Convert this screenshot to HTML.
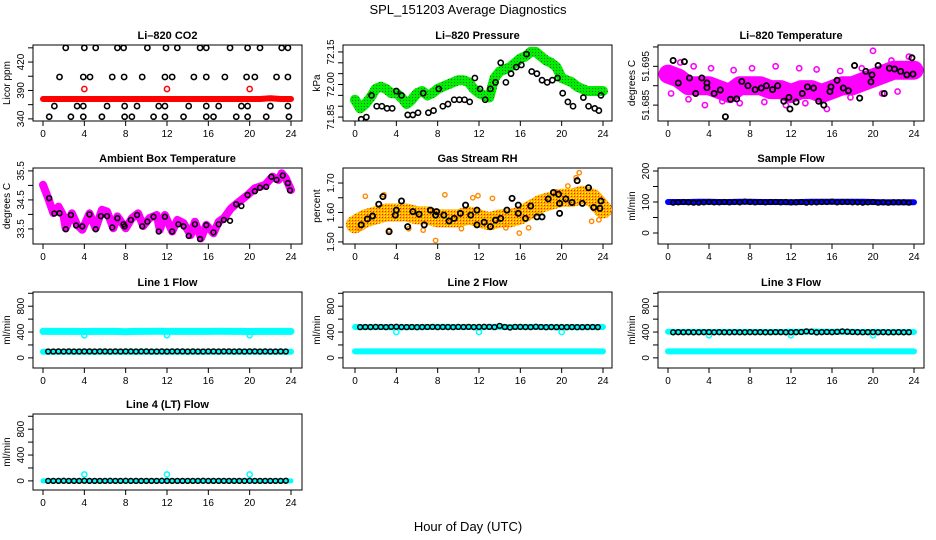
<!DOCTYPE html>
<html><head><meta charset="utf-8"><title>SPL_151203 Average Diagnostics</title>
<style>
html,body{margin:0;padding:0;background:#fff;}
svg{display:block;font-family:"Liberation Sans",Arial,sans-serif;}
</style></head>
<body>
<svg id="chart" width="936" height="540" viewBox="0 0 936 540">
<text x="468" y="14" text-anchor="middle" font-size="13">SPL_151203  Average Diagnostics</text>
<text x="468" y="531" text-anchor="middle" font-size="13">Hour of Day (UTC)</text>
</svg>
<script>
// ---------- data ----------
const xTicks = [0,4,8,12,16,20,24];
const hourly = [0,1,2,3,4,5,6,7,8,9,10,11,12,13,14,15,16,17,18,19,20,21,22,23,24];
const halfH = [0.5,1,1.5,2,2.5,3,3.5,4,4.5,5,5.5,6,6.5,7,7.5,8,8.5,9,9.5,10,10.5,11,11.5,12,12.5,13,13.5,14,14.5,15,15.5,16,16.5,17,17.5,18,18.5,19,19.5,20,20.5,21,21.5,22,22.5,23,23.5];

// CO2
const co2Band = [368,368,368,368,368,368,368,368,368,368,368,368,368,368,368,368,368,368,368,368,368,368,369,368,368];
const co2RedH = [4,12,20];
const co2RedV = [382,382,382];
const co2H = [2.2,4.0,5.1,7.2,7.8,10.1,11.9,13.0,15.2,15.8,18.1,19.8,21.0,23.1,23.7,
  1.6,3.9,4.55,6.7,7.85,9.6,11.8,12.5,14.6,15.8,17.6,19.7,20.5,22.6,23.7,
  1.1,3.3,3.9,6.2,7.9,9.1,11.2,11.8,14.1,15.8,17.0,19.2,19.8,22.0,23.7,
  0.6,2.7,3.9,5.7,7.9,8.6,10.7,11.8,13.6,15.8,16.5,18.7,19.8,21.6,23.8];
const co2V = [440,440,440,440,440,440,440,440,440,440,440,440,440,440,440,
  399,399,399,399,399,399,399,399,399,399,399,399,399,399,399,
  358,358,358,358,358,358,358,358,358,358,358,358,358,358,358,
  343,343,343,343,343,343,343,343,343,343,343,343,343,343,343];

// Pressure
const presBandH = [0,0.5,1,1.5,2,2.5,3,3.5,4,4.5,5,5.5,6,6.5,7,7.5,8,8.5,9,9.5,10,10.5,11,11.5,12,12.5,13,13.5,14,14.5,15,15.5,16,16.5,17,17.5,18,18.5,19,19.5,20,20.5,21,21.5,22,22.5,23,23.5,24];
const presBandV = [71.93,71.89,71.91,71.94,71.98,71.99,71.98,71.96,71.96,71.94,71.91,71.93,71.96,71.97,71.95,71.96,71.98,71.99,72.00,72.01,72.02,72.02,72.01,71.98,71.96,71.95,71.94,72.03,72.06,72.07,72.08,72.10,72.12,72.13,72.15,72.15,72.13,72.11,72.10,72.08,72.03,72.02,72.01,71.99,71.98,71.97,71.97,71.97,71.97];
const presH = [0.6,1.1,1.6,2.1,2.6,3.1,3.6,4.0,4.5,5.1,5.6,6.1,6.6,7.1,7.6,8.1,8.5,9.0,9.6,10.1,10.6,11.1,11.6,12.1,12.6,13.1,13.6,14.1,14.6,15.1,15.6,16.1,16.6,17.1,17.6,18.1,18.6,19.1,19.6,20.1,20.6,21.1,22.1,22.6,23.2,23.6,23.8];
const presV = [71.84,71.85,71.95,71.90,71.90,71.89,71.89,71.97,71.95,71.86,71.86,71.87,71.96,71.87,71.88,71.98,71.90,71.91,71.93,71.93,71.93,71.92,72.03,71.98,71.93,71.98,72.01,72.10,72.01,72.05,72.08,72.09,72.14,72.06,72.05,72.02,72.01,72.02,72.03,71.96,71.92,71.90,71.94,71.90,71.89,71.88,71.95];

// Li-820 temperature
const ltBand = [51.693,51.692,51.690,51.690,51.690,51.689,51.688,51.690,51.690,51.690,51.689,51.689,51.688,51.689,51.689,51.688,51.689,51.690,51.690,51.691,51.692,51.693,51.694,51.694,51.694];
const ltH = [0.5,1.0,1.6,2.1,2.7,3.3,3.8,3.8,4.5,5.1,5.6,6.1,6.7,7.2,7.8,8.5,9.1,9.6,10.2,10.7,11.3,11.8,11.9,12.5,13.1,13.6,14.2,14.7,15.2,15.8,15.9,16.5,17.1,17.6,18.2,18.7,19.3,19.8,19.9,20.5,21.1,21.6,22.1,22.7,23.3,23.8,23.9];
const ltV = [51.6965,51.6907,51.6962,51.6920,51.6880,51.6920,51.6907,51.6895,51.6880,51.6889,51.6820,51.6865,51.6866,51.6911,51.6900,51.6890,51.6894,51.6900,51.6890,51.6900,51.6860,51.6870,51.6840,51.6858,51.6880,51.6897,51.6894,51.6860,51.6850,51.6885,51.6897,51.6914,51.6894,51.6887,51.6952,51.6868,51.6937,51.6910,51.6928,51.6952,51.6880,51.6945,51.6943,51.6937,51.6928,51.6972,51.6930];
const ltScatH = [0.3,1.2,2.0,2.5,3.6,4.2,5.3,6.4,7.0,8.2,9.4,10.5,11.5,12.8,13.4,14.5,15.5,16.8,17.8,18.9,20.0,20.9,21.8,22.4,23.5];
const ltScatV = [51.6880,51.6960,51.6865,51.6950,51.6850,51.6945,51.6860,51.6940,51.6855,51.6945,51.6858,51.6950,51.6850,51.6945,51.6855,51.6942,51.6840,51.6938,51.6870,51.6945,51.6990,51.6880,51.6965,51.6885,51.6975];

// Ambient box temperature
const ambH = [0,0.5,1,1.5,2,2.2,2.8,3.3,3.8,4.5,5.1,5.7,6.2,6.8,7.2,8,8.6,9.2,9.7,10.3,11,11.3,11.8,12.5,13,13.6,14.3,14.7,15.3,15.8,16.5,17,17.5,18.2,18.8,19.8,20.5,21.5,22.2,22.8,23.1,23.5,24];
const ambV = [35.02,34.56,34.05,34.27,33.93,33.52,34.04,33.64,33.47,34.04,33.52,34.16,34.10,33.52,33.93,33.52,33.87,34.04,33.60,33.87,33.98,33.47,33.98,33.41,33.81,33.70,33.29,33.75,33.18,33.64,33.35,33.75,33.87,34.21,34.39,34.67,34.90,35.02,35.30,35.19,35.42,35.25,34.84];
const ambPtH = [0.6,1.1,1.6,2.2,2.7,3.2,3.8,4.5,5.1,5.6,6.2,6.7,7.2,7.8,7.9,8.5,9.1,9.6,10.1,10.7,11.2,11.8,12.5,13.1,13.6,14.1,14.7,15.2,15.8,16.5,17.0,17.5,18.1,18.7,19.2,19.8,20.5,21.0,21.6,22.1,22.6,23.2,23.7,23.9];
const ambPtV = [34.56,34.03,34.04,33.49,33.98,33.62,33.59,34.00,33.49,33.94,33.94,33.55,33.87,33.66,33.59,33.81,33.98,33.59,33.75,33.92,33.41,33.92,33.41,33.66,33.59,33.26,33.66,33.15,33.63,33.38,33.66,33.81,33.78,34.35,34.29,34.67,34.80,34.92,34.95,35.30,35.19,35.34,35.08,34.83];

// Gas stream RH
const rhBand = [1.56,1.58,1.59,1.60,1.60,1.60,1.59,1.59,1.58,1.58,1.58,1.59,1.58,1.57,1.58,1.58,1.59,1.61,1.63,1.64,1.65,1.65,1.66,1.65,1.61];
const rhH = [0.6,1.2,1.7,2.3,2.7,3.3,3.9,4.0,4.5,5.1,5.6,6.2,6.7,7.3,7.8,7.9,8.6,9.1,9.6,10.2,10.7,11.2,11.8,11.8,12.5,13.1,13.6,14.1,14.7,15.2,15.8,15.8,16.5,17.0,17.6,18.1,18.7,19.2,19.7,19.8,19.8,20.4,21.0,21.5,22.0,22.6,23.1,23.7,23.8];
const rhV = [1.558,1.578,1.588,1.628,1.654,1.535,1.591,1.608,1.639,1.552,1.603,1.594,1.558,1.608,1.591,1.603,1.591,1.571,1.580,1.597,1.625,1.591,1.608,1.558,1.567,1.552,1.574,1.580,1.608,1.648,1.625,1.597,1.580,1.622,1.585,1.585,1.646,1.668,1.662,1.597,1.631,1.646,1.634,1.708,1.631,1.684,1.617,1.614,1.639];
const rhScatH = [0.4,1.0,2.8,3.3,5.2,6.6,7.8,8.7,10.3,11.4,11.9,13.3,14.6,15.9,16.8,19.5,20.6,21.4,21.7,22.9,23.6];
const rhScatV = [1.545,1.655,1.660,1.540,1.545,1.540,1.505,1.660,1.545,1.650,1.657,1.648,1.548,1.530,1.548,1.670,1.690,1.718,1.735,1.570,1.575];

// Flows
const sampBand = [100,100,100,101,101,100,100,101,101,100,100,100,99,100,101,101,101,101,101,101,100,99,99,99,99];
const sampBlk = [98,99,100,99,98,98,99,100,99,99,100,99,100,99,101,100,99,100,99,100,100,99,100,99,99,100,98,99,99,100,100,101,99,100,100,99,99,98,99,100,98,99,98,99,99,99,98];
const l1High = [410,410,410,410,408,410,410,410,405,410,410,412,410,410,410,410,410,412,410,410,408,410,410,410,410];
const l1Low = [95,95,95,95,95,95,95,95,95,95,95,95,95,95,95,95,95,95,95,95,95,95,95,95,95];
const l1Blk = [98,99,100,99,100,98,99,101,100,99,100,100,99,100,99,100,101,99,100,100,98,99,100,99,100,101,100,99,100,98,99,100,100,99,101,100,99,100,99,101,100,99,100,98,99,100,99];
const l2High = [478,476,477,478,470,478,477,478,480,479,478,480,470,480,482,478,478,480,478,477,470,478,476,477,478];
const l2Low = [100,100,100,100,100,100,100,100,100,100,100,100,100,100,100,100,100,100,100,100,100,100,100,100,100];
const l2Blk = [476,478,477,479,478,476,480,482,477,476,478,475,477,478,480,476,478,477,476,479,478,480,477,479,481,480,476,495,478,470,480,479,477,476,481,478,475,477,476,478,476,477,475,476,477,478,476];
const l3High = [405,400,402,402,400,401,402,401,402,401,400,401,403,405,408,406,404,403,402,400,401,400,399,400,400];
const l3Low = [100,100,100,100,100,100,100,100,100,100,100,100,100,100,100,100,100,100,100,100,100,100,100,100,100];
const l3Blk = [396,398,397,398,396,397,398,399,396,398,397,396,398,397,396,398,397,398,396,397,399,398,396,397,398,400,410,405,395,398,400,398,402,410,405,400,398,397,398,399,397,398,396,397,398,396,397];
const l4Cyan = [0,0,0,0,0,0,0,0,0,0,0,0,0,0,0,0,0,0,0,0,0,0,0,0,0];
const l4SpikeH = [4,12,20];
const l4SpikeV = [100,100,100];
const l4Blk = [0,0,0,1,0,0,0,2,0,0,0,0,1,0,0,1,0,0,0,0,0,0,1,0,0,0,0,0,0,0,1,0,0,0,0,0,0,0,0,1,0,0,0,0,0,0,2];
const outH = [4,12,20];
const l1Out = [350,350,350];
const l2Out = [400,400,400];
const l3Out = [350,350,350];

// ---------- drawing helpers ----------
const NS = 'http://www.w3.org/2000/svg';
const svg = document.getElementById('chart');
const cols = [{l:33,r:302,x0:43,x24:291},{l:343,r:612,x0:355,x24:603},{l:658,r:924,x0:668,x24:914}];
const rowTops = [45,168,292,414];
const BOXH = 76;

function mk(tag, attrs, parent){
  const e = document.createElementNS(NS, tag);
  for (const k in attrs) e.setAttribute(k, attrs[k]);
  parent.appendChild(e);
  return e;
}

function panel(ci, ri, dom, ticks, labels, title, ylab, key){
  const c = cols[ci], top = rowTops[ri], bot = top + BOXH;
  const g = mk('g', {}, svg);
  
  
  const x = h => c.x0 + h * (c.x24 - c.x0) / 24;
  const y = v => bot - (v - dom[0]) / (dom[1] - dom[0]) * BOXH;
  const box = mk('rect', {x:c.l, y:top, width:c.r-c.l, height:BOXH, fill:'none', stroke:'#000', 'stroke-width':1}, g);
  
  
  const t = mk('text', {x:(c.l+c.r)/2, y:top-6, 'text-anchor':'middle', 'font-size':11, 'font-weight':'bold'}, g);
  t.textContent = title;
  
  
  xTicks.forEach(h => {
    const tk = mk('line', {x1:x(h), x2:x(h), y1:bot, y2:bot+5, stroke:'#000'}, g);
    
    
    const tl = mk('text', {x:x(h), y:bot+16, 'text-anchor':'middle', 'font-size':10}, g);
    tl.textContent = String(h);
    
    
  });
  ticks.forEach((v, i) => {
    const tk = mk('line', {x1:c.l-5, x2:c.l, y1:y(v), y2:y(v), stroke:'#000'}, g);
    
    
    if (labels[i]) {
      const tl = mk('text', {x:c.l-9, y:y(v), 'text-anchor':'middle', 'font-size':10, transform:'rotate(-90 '+(c.l-9)+' '+y(v)+')'}, g);
      tl.textContent = labels[i];
      
      
    }
  });
  const yl = mk('text', {x:c.l-23, y:(top+bot)/2, 'text-anchor':'middle', 'font-size':10, transform:'rotate(-90 '+(c.l-23)+' '+((top+bot)/2)+')'}, g);
  yl.textContent = ylab;
  
  
  const clipId = 'clip-' + key;
  const cp = mk('clipPath', {id:clipId}, g);
  mk('rect', {x:c.l, y:top, width:c.r-c.l, height:BOXH}, cp);
  const plot = mk('g', {'clip-path':'url(#'+clipId+')'}, g);
  
  
  return {x, y, g:plot};
}

function band(p, hs, vs, color, w, name){
  const pts = hs.map((h,i) => p.x(h).toFixed(1)+','+p.y(vs[i]).toFixed(1)).join(' ');
  const pl = mk('polyline', {points:pts, fill:'none', stroke:color, 'stroke-width':w, 'stroke-linejoin':'round', 'stroke-linecap':'round'}, p.g);
  
  
}
function pts(p, hs, vs, color, r, sw, name){
  hs.forEach((h,i) => {
    const c = mk('circle', {cx:p.x(h), cy:p.y(vs[i]), r:r, fill:'none', stroke:color, 'stroke-width':sw}, p.g);
    
    
  });
}

const defs = mk('defs', {}, svg);
const pg = mk('pattern', {id:'greenDots', width:3, height:3, patternUnits:'userSpaceOnUse'}, defs);
mk('rect', {width:3, height:3, fill:'#00ee00'}, pg);
mk('rect', {x:1, y:1, width:1, height:1, fill:'#226622'}, pg);
const po = mk('pattern', {id:'rhDots', width:3, height:3, patternUnits:'userSpaceOnUse'}, defs);
mk('rect', {width:3, height:3, fill:'#ffb000'}, po);
mk('rect', {x:1, y:1, width:1, height:1, fill:'#ff2000'}, po);
mk('rect', {x:0, y:0, width:1, height:1, fill:'#ffff00'}, po);

// ---------- panels ----------
const p1 = panel(0,0,[337,444],[340,360,380,400,420,440],['340','','390','','420',''],'Li\u2013820 CO2','Licor ppm','co2');
band(p1, hourly, co2Band, '#ff0000', 6, 'co2-series');
pts(p1, co2RedH, co2RedV, '#ff0000', 2.6, 1.5, 'co2-red-point');
pts(p1, co2H, co2V, '#000', 2.6, 1.6, 'co2-point');

const p2 = panel(1,0,[71.832,72.182],[71.85,71.90,71.95,72.00,72.05,72.10,72.15],['71.85','','','72.00','','','72.15'],'Li\u2013820 Pressure','kPa','pressure');
band(p2, presBandH, presBandV, 'url(#greenDots)', 10, 'pressure-series');
pts(p2, presH, presV, '#000', 2.6, 1.6, 'pressure-point');

const p3 = panel(2,0,[51.6809,51.7005],[51.685,51.690,51.695,51.700],['51.685','','51.695',''],'Li\u2013820 Temperature','degrees C','li-temp');
band(p3, hourly, ltBand, '#ff00ff', 19, 'li-temp-series');
pts(p3, ltScatH, ltScatV, '#ff00ff', 2.6, 1.6, 'li-temp-scatter');
pts(p3, ltH, ltV, '#000', 2.6, 1.8, 'li-temp-point');

const p4 = panel(0,1,[32.98,35.60],[33.5,34,34.5,35,35.5],['33.5','','34.5','','35.5'],'Ambient Box Temperature','degrees C','ambient');
band(p4, ambH, ambV, '#ff00ff', 8, 'ambient-series');
pts(p4, ambPtH, ambPtV, '#000', 2.4, 1.6, 'ambient-point');

const p5 = panel(1,1,[1.493,1.751],[1.50,1.55,1.60,1.65,1.70],['1.50','','1.60','','1.70'],'Gas Stream RH','percent','rh');
band(p5, hourly, rhBand, 'url(#rhDots)', 18, 'rh-series');
pts(p5, rhScatH, rhScatV, '#ff8800', 2.2, 1.4, 'rh-scatter');
pts(p5, rhH, rhV, '#000', 2.6, 1.8, 'rh-point');

const p6 = panel(2,1,[-35.5,209.7],[0,50,100,150,200],['0','','100','','200'],'Sample Flow','ml/min','sample-flow');
band(p6, hourly, sampBand, '#0000ff', 6, 'sample-flow-series');
pts(p6, halfH, sampBlk, '#000', 2.4, 1.5, 'sample-flow-point');

const flowTicks = [0,200,400,600,800,1000];
const flowLabels = ['0','','400','','800',''];
const p7 = panel(0,2,[-157,1020],flowTicks,flowLabels,'Line 1 Flow','ml/min','line1-flow');
band(p7, hourly, l1High, '#00ffff', 7, 'line1-high-series');
band(p7, hourly, l1Low, '#00ffff', 6, 'line1-low-series');
pts(p7, outH, l1Out, '#00ffff', 2.6, 1.5, 'line1-outlier');
pts(p7, halfH, l1Blk, '#000', 2.4, 1.5, 'line1-point');

const p8 = panel(1,2,[-157,1020],flowTicks,flowLabels,'Line 2 Flow','ml/min','line2-flow');
band(p8, hourly, l2High, '#00ffff', 6, 'line2-high-series');
band(p8, hourly, l2Low, '#00ffff', 6, 'line2-low-series');
pts(p8, outH, l2Out, '#00ffff', 2.6, 1.5, 'line2-outlier');
pts(p8, halfH, l2Blk, '#000', 2.4, 1.5, 'line2-point');

const p9 = panel(2,2,[-157,1020],flowTicks,flowLabels,'Line 3 Flow','ml/min','line3-flow');
band(p9, hourly, l3High, '#00ffff', 6, 'line3-high-series');
band(p9, hourly, l3Low, '#00ffff', 6, 'line3-low-series');
pts(p9, outH, l3Out, '#00ffff', 2.6, 1.5, 'line3-outlier');
pts(p9, halfH, l3Blk, '#000', 2.4, 1.5, 'line3-point');

const p10 = panel(0,3,[-141,1035],flowTicks,flowLabels,'Line 4 (LT) Flow','ml/min','line4-flow');
band(p10, hourly, l4Cyan, '#00ffff', 5, 'line4-series');
pts(p10, l4SpikeH, l4SpikeV, '#00ffff', 2.6, 1.5, 'line4-spike');
pts(p10, halfH, l4Blk, '#000', 2.4, 1.5, 'line4-point');
</script>
</body></html>
